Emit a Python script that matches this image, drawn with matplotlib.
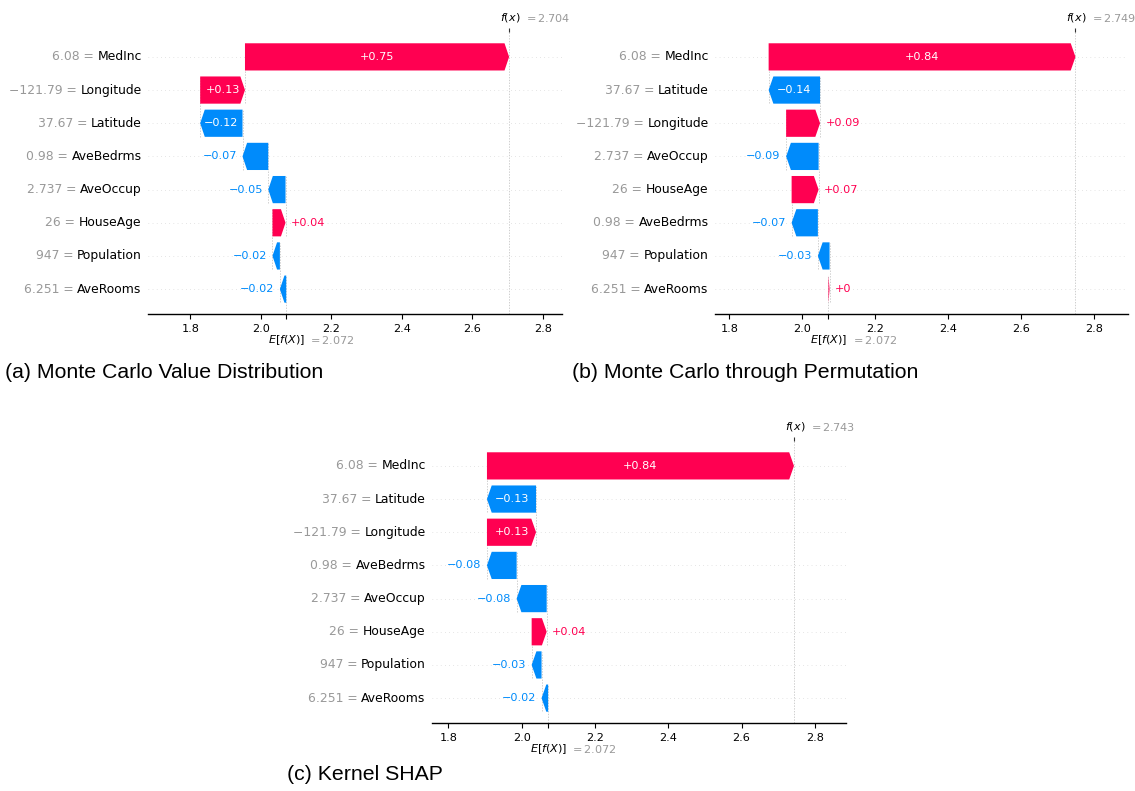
import numpy as np
import matplotlib
matplotlib.use("Agg")
import matplotlib.pyplot as plt
from matplotlib.patches import FancyArrow

# ---- data (rows listed top to bottom, as drawn) ----
base_value = 2.072

a_features = ["MedInc", "Longitude", "Latitude", "AveBedrms", "AveOccup", "HouseAge", "Population", "AveRooms"]
a_data = ["6.08", "\u2212121.79", "37.67", "0.98", "2.737", "26", "947", "6.251"]
a_shap = [0.749, 0.127, -0.120, -0.073, -0.049, 0.037, -0.021, -0.018]

b_features = ["MedInc", "Latitude", "Longitude", "AveOccup", "HouseAge", "AveBedrms", "Population", "AveRooms"]
b_data = ["6.08", "37.67", "\u2212121.79", "2.737", "26", "0.98", "947", "6.251"]
b_shap = [0.841, -0.141, 0.093, -0.089, 0.074, -0.072, -0.032, 0.003]

c_features = ["MedInc", "Latitude", "Longitude", "AveBedrms", "AveOccup", "HouseAge", "Population", "AveRooms"]
c_data = ["6.08", "37.67", "\u2212121.79", "0.98", "2.737", "26", "947", "6.251"]
c_shap = [0.838, -0.134, 0.134, -0.081, -0.082, 0.041, -0.027, -0.018]

captions = ["(a) Monte Carlo Value Distribution",
            "(b) Monte Carlo through Permutation",
            "(c) Kernel SHAP"]

RED = "#ff0051"
BLUE = "#008bfb"
GREY = "#999999"
FS_LAB = 8.9
FS_TXT = 8.1


def fmt(v):
    s = "%+0.02f" % v
    s = s.rstrip("0").rstrip(".")
    if s in ("+", "-"):
        s += "0"
    return s.replace("-", "\u2212")


def waterfall(ax, features, data, shap, xlim):
    n = len(features)
    ypos = np.arange(n)[::-1]          # top row -> highest y
    fx = base_value + sum(shap)
    bar_h = 0.82
    head = 0.013
    ax.set_xlim(*xlim)
    ax.set_ylim(-0.75, n - 0.25)
    fig = ax.figure
    renderer = fig.canvas.get_renderer()
    px2pt = 72.0 / fig.dpi

    # cumulative start positions, built from the bottom row upward
    left = base_value
    starts = [0.0] * n
    for i in range(n - 1, -1, -1):
        starts[i] = left
        left += shap[i]

    for i in range(n):
        ax.axhline(ypos[i], color="#cccccc", lw=0.5, dashes=(1, 5), zorder=-1)

    for i in range(n):
        y = ypos[i]
        v = shap[i]
        x0 = starts[i]
        col = RED if v >= 0 else BLUE
        dist = abs(v)
        hl = min(dist, head)
        body = max(dist - hl, 1e-6)
        arr = FancyArrow(x0, y, (1 if v >= 0 else -1) * body, 0,
                         width=bar_h, head_width=bar_h, head_length=hl,
                         length_includes_head=False, color=col, lw=0, zorder=3)
        ax.add_patch(arr)
        # connector to the row below
        if i < n - 1:
            ax.plot([x0, x0], [y - 1 - 0.4, y + 0.4], color="#bbbbbb", lw=0.5,
                    dashes=(2, 2), zorder=-1)
        # value label: inside if it fits, else beside the tip
        t = ax.text(x0 + v / 2, y, fmt(v), ha="center", va="center", color="white",
                    fontsize=FS_TXT, zorder=4)
        tb = t.get_window_extent(renderer)
        p0 = ax.transData.transform((x0, y))
        p1 = ax.transData.transform((x0 + v, y))
        if tb.width > abs(p1[0] - p0[0]) - 4:
            t.remove()
            if v >= 0:
                ax.annotate(fmt(v), (x0 + v, y), xytext=(4, 0), textcoords="offset points",
                            ha="left", va="center", color=RED, fontsize=FS_TXT)
            else:
                ax.annotate(fmt(v), (x0 + v, y), xytext=(-4, 0), textcoords="offset points",
                            ha="right", va="center", color=BLUE, fontsize=FS_TXT)
        # y labels: black name, grey "value =" to its left
        name = ax.annotate(features[i], (0, y), xycoords=("axes fraction", "data"),
                           xytext=(-4.5, 0), textcoords="offset points", ha="right", va="center",
                           color="black", fontsize=FS_LAB)
        w = name.get_window_extent(renderer).width * px2pt
        ax.annotate(data[i] + " = ", (0, y), xycoords=("axes fraction", "data"),
                    xytext=(-4.5 - w, 0), textcoords="offset points", ha="right", va="center",
                    color=GREY, fontsize=FS_LAB)

    # reference lines
    ax.axvline(fx, 0, 1, color="#bbbbbb", lw=0.5, dashes=(2, 2), zorder=-1)
    ax.plot([base_value, base_value], [-0.75, ypos[-1] + 0.4], color="#bbbbbb", lw=0.5,
            dashes=(2, 2), zorder=-1)

    # top tick for f(x)
    ax3 = ax.twiny()
    ax3.set_xlim(*xlim)
    ax3.set_xticks([fx])
    ax3.set_xticklabels([""])
    ax3.tick_params(axis="x", length=3, width=0.8, color="#333333")
    for s in ax3.spines.values():
        s.set_visible(False)
    ax.annotate("$f(x)$", (fx, 1), xycoords=("data", "axes fraction"), xytext=(-6.5, 6),
                textcoords="offset points", ha="left", va="bottom", fontsize=FS_TXT)
    ax.annotate("$ = %.3f$" % fx, (fx, 1), xycoords=("data", "axes fraction"), xytext=(10.5, 6),
                textcoords="offset points", ha="left", va="bottom", fontsize=FS_TXT, color=GREY)

    # bottom label for E[f(X)]
    ax.annotate("$E[f(X)]$", (base_value, 0), xycoords=("data", "axes fraction"), xytext=(-13, -19),
                textcoords="offset points", ha="left", va="center", fontsize=FS_TXT)
    ax.annotate("$ = %.3f$" % base_value, (base_value, 0), xycoords=("data", "axes fraction"),
                xytext=(16, -19), textcoords="offset points", ha="left", va="center",
                fontsize=FS_TXT, color=GREY)

    ax.set_xticks([1.8, 2.0, 2.2, 2.4, 2.6, 2.8])
    ax.set_xticks([base_value], minor=True)
    ax.tick_params(axis="x", which="major", labelsize=FS_TXT, length=3.5, width=0.8)
    ax.tick_params(axis="x", which="minor", length=3.5, width=0.8)
    ax.set_yticks([])
    for s in ["top", "right", "left"]:
        ax.spines[s].set_visible(False)
    ax.spines["bottom"].set_linewidth(1.0)
    ax.set_facecolor("none")


fig = plt.figure(figsize=(11.35, 7.91), dpi=100)
W, H = 1135.0, 791.0
ax_a = fig.add_axes([148 / W, 1 - 314 / H, 414 / W, 282 / H])
ax_b = fig.add_axes([715 / W, 1 - 314 / H, 413 / W, 282 / H])
ax_c = fig.add_axes([432 / W, 1 - 723 / H, 414 / W, 282 / H])

waterfall(ax_a, a_features, a_data, a_shap, (1.680, 2.854))
waterfall(ax_b, b_features, b_data, b_shap, (1.761, 2.893))
waterfall(ax_c, c_features, c_data, c_shap, (1.755, 2.885))

cap_kw = dict(fontsize=15.3, family="Liberation Sans", va="center", ha="left")
fig.text(5 / W, 1 - 372 / H, captions[0], **cap_kw)
fig.text(572 / W, 1 - 372 / H, captions[1], **cap_kw)
fig.text(287 / W, 1 - 775 / H, captions[2], **cap_kw)

fig.savefig("out.png", dpi=100, facecolor="white")
